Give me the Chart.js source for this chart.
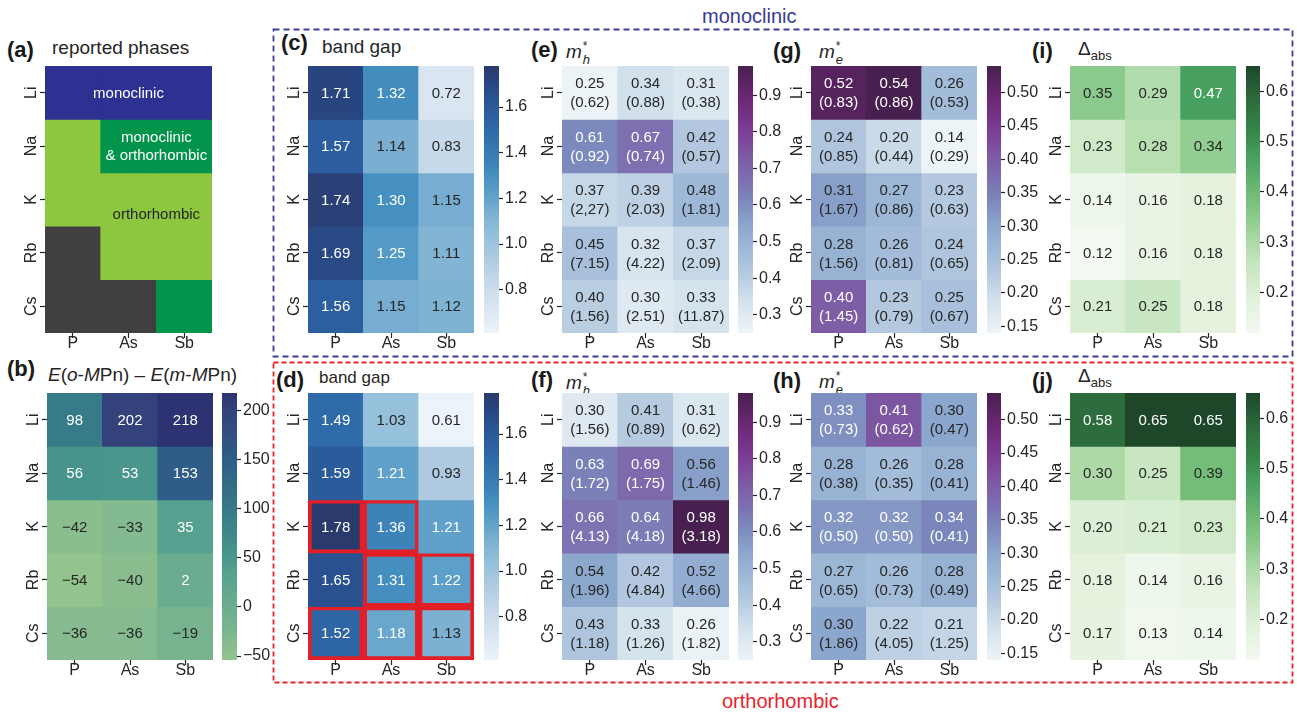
<!DOCTYPE html>
<html lang="en">
<head>
<meta charset="UTF-8">
<title>MPn phase and property heatmaps</title>
<style>
  body {
    margin: 0;
    width: 1297px;
    height: 713px;
    position: relative;
    overflow: hidden;
    background: #fff;
    font-family: "Liberation Sans", Arial, Helvetica, sans-serif;
    color: #262626;
  }
  canvas { position: absolute; }
  .lbl { position: absolute; white-space: nowrap; line-height: 1; }
  .tag { font-weight: bold; font-size: 22px; color: #1a1a1a; }
  .ttl { font-size: 19px; }
  .sx { position: relative; display: inline-block; width: 10px; height: 19px; }
  .s1 { position: absolute; left: 1px; top: 1px; font-size: 12px; line-height: 1; }
  .s2 { position: absolute; left: 1px; top: 14px; font-size: 13px; line-height: 1; font-style: italic; }
  .sub { position: relative; top: 5px; font-size: 13px; }
</style>
</head>
<body>
<svg width="1297" height="713" style="position:absolute;left:0;top:0">
  <rect x="273.5" y="29.5" width="1019" height="327" fill="none" stroke="#3d3d9b" stroke-width="1.8" stroke-dasharray="6 4"/>
  <rect x="273.5" y="362.5" width="1019" height="320" fill="none" stroke="#e8232b" stroke-width="1.8" stroke-dasharray="5 3"/>
</svg>

<div class="lbl" style="left:702px;top:6px;font-size:20px;color:#3a3a96">monoclinic</div>
<div class="lbl" style="left:722px;top:691px;font-size:20px;color:#e8232b">orthorhombic</div>

<div class="lbl tag" style="left:7px;top:39px">(a)</div>
<div class="lbl ttl" style="left:52px;top:38px">reported phases</div>
<div class="lbl tag" style="left:7px;top:358px">(b)</div>
<div class="lbl ttl" style="left:48px;top:365px"><i>E</i>(<i>o</i>-<i>M</i>Pn) – <i>E</i>(<i>m</i>-<i>M</i>Pn)</div>

<div class="lbl tag" style="left:281px;top:32px">(c)</div>
<div class="lbl ttl" style="left:322px;top:37px">band gap</div>
<div class="lbl tag" style="left:276px;top:369px">(d)</div>
<div class="lbl ttl" style="left:319px;top:369px;font-size:17px">band gap</div>

<div class="lbl tag" style="left:531px;top:39px">(e)</div>
<div class="lbl ttl" style="left:566px;top:39px"><i>m</i><span class="sx"><span class="s1">*</span><span class="s2">h</span></span></div>
<div class="lbl tag" style="left:531px;top:369px">(f)</div>
<div class="lbl ttl" style="left:566px;top:370px"><i>m</i><span class="sx"><span class="s1">*</span><span class="s2">h</span></span></div>

<div class="lbl tag" style="left:773px;top:40px">(g)</div>
<div class="lbl ttl" style="left:819px;top:39px"><i>m</i><span class="sx"><span class="s1">*</span><span class="s2">e</span></span></div>
<div class="lbl tag" style="left:773px;top:370px">(h)</div>
<div class="lbl ttl" style="left:819px;top:369px"><i>m</i><span class="sx"><span class="s1">*</span><span class="s2">e</span></span></div>

<div class="lbl tag" style="left:1032px;top:40px">(i)</div>
<div class="lbl ttl" style="left:1078px;top:39px">Δ<span class="sub">abs</span></div>
<div class="lbl tag" style="left:1032px;top:370px">(j)</div>
<div class="lbl ttl" style="left:1078px;top:366px">Δ<span class="sub">abs</span></div>

<script src="https://cdn.jsdelivr.net/npm/chart.js"></script>
<script>
const rows = ['Li', 'Na', 'K', 'Rb', 'Cs'];
const cols = ['P', 'As', 'Sb'];

// m = monoclinic, o = orthorhombic, mo = both reported, x = none
const phases = [
  ['m', 'm', 'm'],
  ['o', 'mo', 'mo'],
  ['o', 'o', 'o'],
  ['x', 'o', 'o'],
  ['x', 'x', 'mo']
];

const energyDiff = [[98, 202, 218], [56, 53, 153], [-42, -33, 35], [-54, -40, 2], [-36, -36, -19]];

const gapMono  = [[1.71, 1.32, 0.72], [1.57, 1.14, 0.83], [1.74, 1.30, 1.15], [1.69, 1.25, 1.11], [1.56, 1.15, 1.12]];
const gapOrtho = [[1.49, 1.03, 0.61], [1.59, 1.21, 0.93], [1.78, 1.36, 1.21], [1.65, 1.31, 1.22], [1.52, 1.18, 1.13]];
const boxedOrtho = [[0, 0, 0], [0, 0, 0], [1, 1, 0], [0, 1, 1], [1, 1, 1]];

const mhMono     = [[0.25, 0.34, 0.31], [0.61, 0.67, 0.42], [0.37, 0.39, 0.48], [0.45, 0.32, 0.37], [0.40, 0.30, 0.33]];
const mhMonoAlt  = [['0.62', '0.88', '0.38'], ['0.92', '0.74', '0.57'], ['2,27', '2.03', '1.81'], ['7.15', '4.22', '2.09'], ['1.56', '2.51', '11.87']];
const mhOrtho    = [[0.30, 0.41, 0.31], [0.63, 0.69, 0.56], [0.66, 0.64, 0.98], [0.54, 0.42, 0.52], [0.43, 0.33, 0.26]];
const mhOrthoAlt = [['1.56', '0.89', '0.62'], ['1.72', '1.75', '1.46'], ['4.13', '4.18', '3.18'], ['1.96', '4.84', '4.66'], ['1.18', '1.26', '1.82']];

const meMono     = [[0.52, 0.54, 0.26], [0.24, 0.20, 0.14], [0.31, 0.27, 0.23], [0.28, 0.26, 0.24], [0.40, 0.23, 0.25]];
const meMonoAlt  = [['0.83', '0.86', '0.53'], ['0.85', '0.44', '0.29'], ['1.67', '0.86', '0.63'], ['1.56', '0.81', '0.65'], ['1.45', '0.79', '0.67']];
const meOrtho    = [[0.33, 0.41, 0.30], [0.28, 0.26, 0.28], [0.32, 0.32, 0.34], [0.27, 0.26, 0.28], [0.30, 0.22, 0.21]];
const meOrthoAlt = [['0.73', '0.62', '0.47'], ['0.38', '0.35', '0.41'], ['0.50', '0.50', '0.41'], ['0.65', '0.73', '0.49'], ['1.86', '4.05', '1.25']];

const absMono  = [[0.35, 0.29, 0.47], [0.23, 0.28, 0.34], [0.14, 0.16, 0.18], [0.12, 0.16, 0.18], [0.21, 0.25, 0.18]];
const absOrtho = [[0.58, 0.65, 0.65], [0.30, 0.25, 0.39], [0.20, 0.21, 0.23], [0.18, 0.14, 0.16], [0.17, 0.13, 0.14]];

const ticksEnergy = [-50, 0, 50, 100, 150, 200];
const ticksGap = [0.8, 1.0, 1.2, 1.4, 1.6];
const ticksMh = [0.3, 0.4, 0.5, 0.6, 0.7, 0.8, 0.9];
const ticksMe = [0.15, 0.20, 0.25, 0.30, 0.35, 0.40, 0.45, 0.50];
const ticksAbs = [0.2, 0.3, 0.4, 0.5, 0.6];

const phaseColors = { m: '#2e3192', o: '#8dc63f', mo: '#01944a', x: '#404040' };

// colour ramps; "light" = fraction above which cell text turns white
const crest = { light: 0.17, stops: [[0, '#94c48e'], [0.13, '#77b38f'], [0.33, '#55a08e'], [0.4, '#47958c'],
  [0.56, '#377a88'], [0.76, '#2f5d87'], [0.94, '#33427a'], [1, '#2d3272']] };
const blues = { light: 0.47, stops: [[0, '#edf3fa'], [0.094, '#d9e6f2'], [0.188, '#c6d9ea'], [0.274, '#afcbe2'],
  [0.36, '#95c1dc'], [0.45, '#7bb0d1'], [0.51, '#60a2ca'], [0.59, '#4690c1'], [0.64, '#3b83b8'],
  [0.75, '#306ba9'], [0.82, '#2c5e9f'], [0.89, '#2a518f'], [0.94, '#294580'], [1, '#2b3a6c']] };
const bupu = { light: 0.43, stops: [[0, '#edf4f7'], [0.12, '#d3e1ec'], [0.23, '#b3c8df'], [0.31, '#9fbad8'],
  [0.4, '#8ca7cd'], [0.5, '#7b87bc'], [0.575, '#7d6fb0'], [0.65, '#7d5ea6'], [0.75, '#7d3f97'],
  [0.875, '#6e2777'], [1, '#48204f']] };
const greens = { light: 0.6, stops: [[0, '#f3f9f1'], [0.125, '#e2f1dc'], [0.25, '#c8e6c1'], [0.375, '#a2d49d'],
  [0.43, '#8ccb8d'], [0.5, '#77bf7b'], [0.66, '#48a060'], [0.75, '#358849'], [0.87, '#2d6c3d'], [1, '#1e472a']] };

const FONT = '"Liberation Sans", Arial, Helvetica, sans-serif';
const INK = '#262626';
Chart.defaults.font.family = FONT;
Chart.defaults.font.size = 16;
Chart.defaults.color = INK;

const span = (...grids) => { const all = grids.flat(2); return [Math.min(...all), Math.max(...all)]; };
const rangeEnergy = span(energyDiff);
const rangeGap = span(gapMono, gapOrtho);
const rangeMh = span(mhMono, mhOrtho);
const rangeMe = span(meMono, meOrtho);
const rangeAbs = span(absMono, absOrtho);

function hexRgb(h) { return [1, 3, 5].map(i => parseInt(h.slice(i, i + 2), 16)); }
function rampColor(stops, t) {
  t = Math.max(0, Math.min(1, t));
  for (let i = 1; i < stops.length; i++) {
    if (t <= stops[i][0]) {
      const [t0, c0] = stops[i - 1], [t1, c1] = stops[i];
      const f = (t - t0) / (t1 - t0), a = hexRgb(c0), b = hexRgb(c1);
      return 'rgb(' + a.map((v, k) => Math.round(v + (b[k] - v) * f)).join(',') + ')';
    }
  }
  return stops[stops.length - 1][1];
}
const frac = (range, v) => (v - range[0]) / (range[1] - range[0]);
const minus = v => v < 0 ? '\u2212' + Math.abs(v) : String(v);

function addCanvas(left, top, w, h) {
  const cv = document.createElement('canvas');
  cv.width = w; cv.height = h;
  cv.style.left = left + 'px'; cv.style.top = top + 'px';
  cv.style.width = w + 'px'; cv.style.height = h + 'px';
  document.body.appendChild(cv);
  return cv;
}

const AX_W = 40, AX_H = 30;

function heatmap(pos, fill, opt) {
  const cv = addCanvas(pos.x - AX_W, pos.y, pos.w + AX_W, pos.h + AX_H);
  const datasets = rows.map((name, r) => ({
    label: name,
    data: cols.map(() => 1),
    backgroundColor: cols.map((_, c) => fill(r, c)),
    borderColor: '#e31e26',
    borderWidth: cols.map((_, c) => opt.border ? opt.border(r, c) : 0),
    borderSkipped: false,
    barPercentage: 1,
    categoryPercentage: 1
  }));

  const cellText = {
    id: 'cellText',
    afterDatasetsDraw(chart) {
      const ctx = chart.ctx;
      ctx.save();
      ctx.font = '15px ' + FONT;
      ctx.textAlign = 'center';
      ctx.textBaseline = 'middle';
      if (opt.label) {
        rows.forEach((_, r) => chart.getDatasetMeta(r).data.forEach((bar, c) => {
          const p = bar.getCenterPoint();
          const lines = opt.label(r, c);
          ctx.fillStyle = opt.ink(r, c);
          lines.forEach((s, k) => ctx.fillText(s, p.x, p.y + 1 + (k - (lines.length - 1) / 2) * 19));
        }));
      }
      (opt.notes || []).forEach(n => {
        const x = chart.scales.x.getPixelForValue(n.col);
        const y = chart.scales.y.getPixelForValue(n.row);
        ctx.fillStyle = n.color;
        n.text.forEach((s, k) => ctx.fillText(s, x, y + 1 + (k - (n.text.length - 1) / 2) * 18));
      });
      ctx.restore();
    },
    afterDraw(chart) {
      // row names, rotated, left of the tick marks
      const y = chart.scales.y, ctx = chart.ctx;
      ctx.save();
      ctx.font = '16px ' + FONT;
      ctx.fillStyle = INK;
      ctx.textAlign = 'center';
      ctx.textBaseline = 'alphabetic';
      y.ticks.forEach((t, i) => {
        ctx.save();
        ctx.translate(chart.chartArea.left - 9, y.getPixelForValue(t.value));
        ctx.rotate(-Math.PI / 2);
        ctx.fillText(rows[i], 0, 0);
        ctx.restore();
      });
      ctx.restore();
    }
  };

  new Chart(cv, {
    type: 'bar',
    data: { labels: cols, datasets },
    plugins: [cellText],
    options: {
      responsive: false,
      animation: false,
      events: [],
      layout: { padding: 0 },
      plugins: { legend: { display: false }, tooltip: { enabled: false } },
      scales: {
        x: {
          stacked: true,
          grid: { offset: false, drawOnChartArea: false, tickLength: 5, color: INK, tickWidth: 1.2 },
          border: { display: false },
          ticks: { padding: -4 },
          afterFit: s => { s.height = AX_H; s.paddingLeft = 0; s.paddingRight = 0; }
        },
        y: {
          stacked: true,
          reverse: true,
          min: 0,
          max: rows.length,
          grid: { drawOnChartArea: false, tickLength: 5, color: INK, tickWidth: 1.2 },
          border: { display: false },
          ticks: { display: false },
          afterBuildTicks: s => { s.ticks = rows.map((_, i) => ({ value: i + 0.5 })); },
          afterFit: s => { s.width = AX_W; s.paddingTop = 0; s.paddingBottom = 0; }
        }
      }
    }
  });
}

function colorbar(pos, ramp, range, ticks, fmt) {
  const M = 12, LW = 46;
  const cv = addCanvas(pos.x, pos.y - M, pos.w + LW, pos.h + 2 * M);
  new Chart(cv, {
    type: 'bar',
    data: {
      labels: [''],
      datasets: [{
        data: [range],
        backgroundColor: c => {
          const a = c.chart.chartArea;
          if (!a) return null;
          const g = c.chart.ctx.createLinearGradient(0, a.bottom, 0, a.top);
          ramp.stops.forEach(([t, col]) => g.addColorStop(t, col));
          return g;
        },
        borderWidth: 0,
        barPercentage: 1,
        categoryPercentage: 1
      }]
    },
    options: {
      responsive: false,
      animation: false,
      events: [],
      layout: { padding: { top: M, bottom: M, left: 0, right: 0 } },
      plugins: { legend: { display: false }, tooltip: { enabled: false } },
      scales: {
        x: { display: false },
        y: {
          position: 'right',
          min: range[0],
          max: range[1],
          grid: { drawOnChartArea: false, tickLength: 4, color: INK, tickWidth: 1.2 },
          border: { display: false },
          ticks: { padding: 2, callback: v => fmt(v) },
          afterBuildTicks: s => { s.ticks = ticks.map(v => ({ value: v })); },
          afterFit: s => { s.width = LW; s.paddingTop = 0; s.paddingBottom = 0; }
        }
      }
    }
  });
}

function valuePanel(pos, grid, ramp, range, alt, border) {
  heatmap(pos, (r, c) => rampColor(ramp.stops, frac(range, grid[r][c])), {
    label: (r, c) => {
      const s = grid[r][c].toFixed(2);
      return alt ? [s, '(' + alt[r][c] + ')'] : [s];
    },
    ink: (r, c) => frac(range, grid[r][c]) > ramp.light ? '#ffffff' : INK,
    border
  });
}

const TOP = 66, BOT = 393, W = 166, H = 267;

// (a) reported phases
heatmap({ x: 45, y: TOP, w: 167, h: H }, (r, c) => phaseColors[phases[r][c]], {
  notes: [
    { text: ['monoclinic'], col: 1, row: 0.5, color: '#ffffff' },
    { text: ['monoclinic', '& orthorhombic'], col: 1.5, row: 1.5, color: '#ffffff' },
    { text: ['orthorhombic'], col: 1.5, row: 2.76, color: INK }
  ]
});

// (b) energy difference between polymorphs
heatmap({ x: 47, y: BOT, w: W, h: H }, (r, c) => rampColor(crest.stops, frac(rangeEnergy, energyDiff[r][c])), {
  label: (r, c) => [minus(energyDiff[r][c])],
  ink: (r, c) => frac(rangeEnergy, energyDiff[r][c]) > crest.light ? '#ffffff' : INK
});
colorbar({ x: 222, y: BOT, w: 15, h: H }, crest, rangeEnergy, ticksEnergy, minus);

// band gaps
valuePanel({ x: 308, y: TOP, w: W, h: H }, gapMono, blues, rangeGap);
valuePanel({ x: 308, y: BOT, w: W, h: H }, gapOrtho, blues, rangeGap, null, (r, c) => boxedOrtho[r][c] ? 4 : 0);
colorbar({ x: 484, y: TOP, w: 15, h: H }, blues, rangeGap, ticksGap, v => v.toFixed(1));
colorbar({ x: 484, y: BOT, w: 15, h: H }, blues, rangeGap, ticksGap, v => v.toFixed(1));

// hole effective masses
valuePanel({ x: 562, y: TOP, w: 167, h: H }, mhMono, bupu, rangeMh, mhMonoAlt);
valuePanel({ x: 562, y: BOT, w: 167, h: H }, mhOrtho, bupu, rangeMh, mhOrthoAlt);
colorbar({ x: 738, y: TOP, w: 15, h: H }, bupu, rangeMh, ticksMh, v => v.toFixed(1));
colorbar({ x: 738, y: BOT, w: 15, h: H }, bupu, rangeMh, ticksMh, v => v.toFixed(1));

// electron effective masses
valuePanel({ x: 811, y: TOP, w: W, h: H }, meMono, bupu, rangeMe, meMonoAlt);
valuePanel({ x: 811, y: BOT, w: W, h: H }, meOrtho, bupu, rangeMe, meOrthoAlt);
colorbar({ x: 987, y: TOP, w: 14, h: H }, bupu, rangeMe, ticksMe, v => v.toFixed(2));
colorbar({ x: 987, y: BOT, w: 14, h: H }, bupu, rangeMe, ticksMe, v => v.toFixed(2));

// absorption onset shift
valuePanel({ x: 1070, y: TOP, w: W, h: H }, absMono, greens, rangeAbs);
valuePanel({ x: 1070, y: BOT, w: W, h: H }, absOrtho, greens, rangeAbs);
colorbar({ x: 1246, y: TOP, w: 14, h: H }, greens, rangeAbs, ticksAbs, v => v.toFixed(1));
colorbar({ x: 1246, y: BOT, w: 14, h: H }, greens, rangeAbs, ticksAbs, v => v.toFixed(1));
</script>
</body>
</html>
